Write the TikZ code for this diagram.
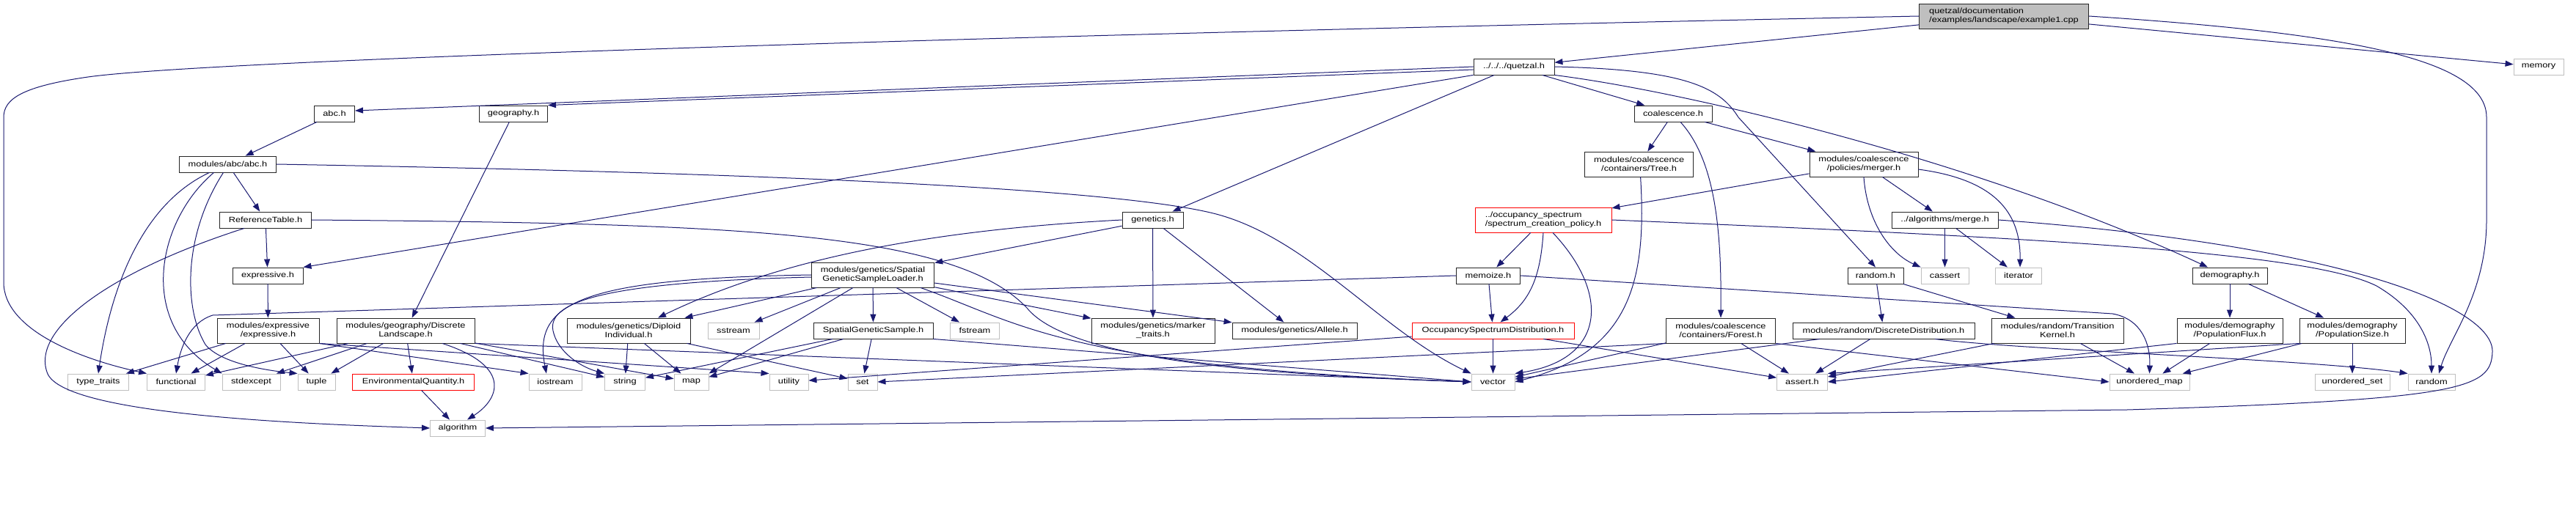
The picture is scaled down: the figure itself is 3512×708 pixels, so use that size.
\documentclass[tikz,border=0pt]{standalone}
\usepackage{fontspec}
\newfontfamily\doxfont[FakeStretch=1.22]{Liberation Sans}
\usetikzlibrary{arrows.meta}
\definecolor{edgeblue}{HTML}{191970}
\definecolor{sysgray}{HTML}{BFBFBF}
\definecolor{mainfill}{HTML}{BFBFBF}
\definecolor{missred}{HTML}{FF0000}
\tikzset{
  hdrbox/.style={
    rectangle, draw=black!85, fill=white, line width=0.9pt,
    minimum width=#1, minimum height=22,
    font=\doxfont\fontsize{10.5}{12}\selectfont, align=center,
    inner sep=2pt
  },
  hdrbox/.default=60,
  sysbox/.style={hdrbox=#1, draw=sysgray},
  redbox/.style={hdrbox=#1, draw=missred},
  mainbox/.style={hdrbox=#1, fill=mainfill},
  twoline/.style={minimum height=34},
  incl/.style={
    -{Triangle[length=11pt,width=8pt]}, draw=edgeblue, line width=1pt
  },
}

\begin{document}
\begin{tikzpicture}[x=1pt, y=-1pt]
  \useasboundingbox (0,0) rectangle (3512,708);

  % top rows
  \node[mainbox=231, twoline, align=left] (ex) at (2732,22)
    {quetzal/documentation\\/examples/landscape/example1.cpp};
  \node[hdrbox=110] (quetzal) at (2064,91) {../../../quetzal.h};
  \node[sysbox=68] (memory) at (3461,91) {memory};
  \node[hdrbox=55] (abc) at (456,155) {abc.h};
  \node[hdrbox=93] (geography) at (700,155) {geography.h};
  \node[hdrbox=106] (coalescence) at (2281,155) {coalescence.h};
  \node[hdrbox=132] (abcmod) at (310.5,224) {modules/abc/abc.h};
  \node[hdrbox=148, twoline] (tree) at (2234.6,224)
    {modules/coalescence\\/containers/Tree.h};
  \node[hdrbox=148, twoline] (merger) at (2541,224)
    {modules/coalescence\\/policies/merger.h};
  \node[hdrbox=125] (reftable) at (362,300) {ReferenceTable.h};
  \node[hdrbox=83] (genetics) at (1571.5,300) {genetics.h};
  \node[redbox=186, twoline, align=left] (policy) at (2104,300)
    {../occupancy\_spectrum\\/spectrum\_creation\_policy.h};
  \node[hdrbox=145] (merge) at (2651.5,300) {../algorithms/merge.h};
  \node[hdrbox=96] (expressive) at (365,376) {expressive.h};
  \node[hdrbox=167.5, twoline] (loader) at (1190,375)
    {modules/genetics/Spatial\\GeneticSampleLoader.h};
  \node[hdrbox=87] (memoize) at (2029,376) {memoize.h};
  \node[hdrbox=76] (randomh) at (2557,376) {random.h};
  \node[sysbox=65] (cassert) at (2651.5,376) {cassert};
  \node[sysbox=63] (iterator) at (2752,376) {iterator};
  \node[hdrbox=102] (demography) at (3040,376) {demography.h};

  % module headers
  \node[hdrbox=139, twoline] (exprmod) at (365.5,451)
    {modules/expressive\\/expressive.h};
  \node[hdrbox=188, twoline] (landscape) at (553,451)
    {modules/geography/Discrete\\Landscape.h};
  \node[hdrbox=168, twoline] (diploid) at (857,451)
    {modules/genetics/Diploid\\Individual.h};
  \node[sysbox=70] (sstream) at (1000,451) {sstream};
  \node[hdrbox=163] (sample) at (1190.5,451) {SpatialGeneticSample.h};
  \node[sysbox=67] (fstream) at (1329,451) {fstream};
  \node[hdrbox=168, twoline] (marker) at (1572,451)
    {modules/genetics/marker\\\_traits.h};
  \node[hdrbox=170] (allele) at (1765,451) {modules/genetics/Allele.h};
  \node[redbox=221] (osd) at (2035.5,451) {OccupancySpectrumDistribution.h};
  \node[hdrbox=149, twoline] (forest) at (2346,451)
    {modules/coalescence\\/containers/Forest.h};
  \node[hdrbox=248] (discrete) at (2568,451)
    {modules/random/DiscreteDistribution.h};
  \node[hdrbox=180, twoline] (kernel) at (2805,451)
    {modules/random/Transition\\Kernel.h};
  \node[hdrbox=144, twoline] (flux) at (3040,451)
    {modules/demography\\/PopulationFlux.h};
  \node[hdrbox=144, twoline] (popsize) at (3207,451)
    {modules/demography\\/PopulationSize.h};

  % system headers
  \node[sysbox=83] (typetraits) at (134,521) {type\_traits};
  \node[sysbox=79] (functional) at (240,521) {functional};
  \node[sysbox=79] (stdexcept) at (342.5,521) {stdexcept};
  \node[sysbox=51] (tuple) at (431.5,521) {tuple};
  \node[redbox=166] (envq) at (563.6,521) {EnvironmentalQuantity.h};
  \node[sysbox=72] (iostream) at (757,521) {iostream};
  \node[sysbox=55] (string) at (852,521) {string};
  \node[sysbox=47] (map) at (942.5,521) {map};
  \node[sysbox=53] (utility) at (1075.5,521) {utility};
  \node[sysbox=40] (set) at (1176,521) {set};
  \node[sysbox=59] (vector) at (2035.5,521) {vector};
  \node[sysbox=69] (asserth) at (2457,521) {assert.h};
  \node[sysbox=109] (umap) at (2930.5,521) {unordered\_map};
  \node[sysbox=102] (uset) at (3207,521) {unordered\_set};
  \node[sysbox=64] (random) at (3315,521) {random};
  \node[sysbox=75] (algorithm) at (624,584) {algorithm};

  % example1.cpp
  \draw[incl] (ex) -- (quetzal);
  \draw[incl] (ex.west) .. controls (1500,45) and (300,80) .. (120,105)
    .. controls (30,118) and (5,135) .. (5,160) -- (5,385)
    .. controls (5,450) and (110,490) .. (functional.north west);
  \draw[incl] (ex) -- (memory);
  \draw[incl] (ex.east) .. controls (3200,45) and (3390,80) .. (3390,160)
    -- (3390,300) .. controls (3390,400) and (3340,460) .. ([xshift=10]random.north);

  % quetzal.h
  \draw[incl] (quetzal.west) -- ([yshift=4]abc.east);
  \draw[incl] ([yshift=-4]quetzal.west) -- (geography.north east);
  \draw[incl] (quetzal.south west) -- (expressive.north east);
  \draw[incl] (quetzal) -- (genetics);
  \draw[incl] (quetzal) -- (coalescence);
  \draw[incl] (quetzal.east) .. controls (2300,95) and (2345,120) .. (2370,160)
    -- (randomh.north);
  \draw[incl] (quetzal.south east) .. controls (2300,125) and (2700,220)
    .. ([xshift=-30]demography.north);

  \draw[incl] (abc) -- (abcmod);
  \draw[incl] (geography) -- (landscape);

  % modules/abc/abc.h
  \draw[incl] (abcmod) -- (reftable);
  \draw[incl] ([xshift=-25]abcmod.south) .. controls (190,280) and (150,400)
    .. (typetraits.north);
  \draw[incl] ([xshift=-19]abcmod.south) .. controls (215,300) and (185,440)
    .. (stdexcept.north west);
  \draw[incl] ([xshift=-6]abcmod.south) .. controls (250,320) and (250,420)
    .. (280,470) .. controls (300,495) and (360,505) .. (tuple.north west);
  \draw[incl] (abcmod.east) .. controls (1000,235) and (1500,255) .. (1650,290)
    .. controls (1780,320) and (1880,450) .. (vector.north west);

  % ReferenceTable.h
  \draw[incl] (reftable) -- (expressive);
  \draw[incl] ([xshift=-29]reftable.south) .. controls (150,370) and (40,450)
    .. (65,510) .. controls (90,565) and (400,578) .. (algorithm.west);
  \draw[incl] (reftable.east) .. controls (1000,305) and (1300,315) .. (1400,420)
    .. controls (1460,495) and (1750,512) .. (vector.west);

  % expressive
  \draw[incl] (expressive) -- (exprmod);
  \draw[incl] (exprmod) -- (typetraits);
  \draw[incl] (exprmod) -- (functional);
  \draw[incl] (exprmod) -- (tuple);
  \draw[incl] (exprmod.south east) -- (iostream.north west);
  \draw[incl] (exprmod.south east) -- (utility.north west);

  % DiscreteLandscape.h
  \draw[incl] (landscape) -- (envq);
  \draw[incl] ([xshift=50]landscape.south) .. controls (700,500) and (680,545)
    .. ([xshift=13]algorithm.north);
  \draw[incl] (landscape) -- (functional);
  \draw[incl] (landscape) -- (stdexcept);
  \draw[incl] (landscape) -- (tuple);
  \draw[incl] (landscape) -- (string);
  \draw[incl] (landscape) -- (map);
  \draw[incl] (landscape.south east) -- (vector.west);
  \draw[incl] (envq) -- (algorithm);

  % genetics
  \draw[incl] (genetics) -- (loader);
  \draw[incl] (genetics.west) .. controls (1300,312) and (1080,345)
    .. ([xshift=40]diploid.north);
  \draw[incl] (genetics) -- (marker);
  \draw[incl] (genetics) -- (allele);
  \draw[incl] (loader) -- (sample);
  \draw[incl] (loader) -- (fstream);
  \draw[incl] (loader) -- (sstream);
  \draw[incl] (loader) -- (diploid);
  \draw[incl] (loader) -- (marker);
  \draw[incl] (loader) -- (allele);
  \draw[incl] (loader.west) .. controls (800,380) and (725,410)
    .. ([xshift=-12]iostream.north);
  \draw[incl] ([yshift=-3]loader.west) .. controls (830,385) and (740,410)
    .. (755,455) .. controls (762,480) and (790,500) .. (string.north west);
  \draw[incl] ([xshift=-27]loader.south) -- (map.north east);
  \draw[incl] ([xshift=65]loader.south) .. controls (1390,440) and (1450,500)
    .. (vector.west);
  \draw[incl] (diploid) -- (string);
  \draw[incl] (diploid) -- (map);
  \draw[incl] (diploid) -- (set);
  \draw[incl] (sample) -- (set);
  \draw[incl] (sample) -- (string);
  \draw[incl] (sample) -- (map);
  \draw[incl] (sample.south east) -- (vector.west);

  % occupancy spectrum
  \draw[incl] (policy) -- (memoize);
  \draw[incl] (policy.south) .. controls (2100,380) and (2085,410)
    .. ([xshift=10]osd.north);
  \draw[incl] ([xshift=13]policy.south) .. controls (2195,400) and (2190,490)
    .. (vector.north east);
  \draw[incl] (policy.east) .. controls (2800,325) and (3150,345) .. (3240,390)
    .. controls (3300,425) and (3315,470) .. (random.north);
  \draw[incl] (memoize) -- (osd);
  \draw[incl] (memoize.west) -- (290,430) .. controls (258,440) and (246,475)
    .. (functional.north);
  \draw[incl] (memoize.east) -- (2880,428) .. controls (2920,435) and (2932,470)
    .. (umap.north);
  \draw[incl] (osd) -- (vector);
  \draw[incl] (osd) -- (utility);
  \draw[incl] (osd) -- (asserth);

  % coalescence
  \draw[incl] (coalescence) -- (tree);
  \draw[incl] (coalescence) -- (merger);
  \draw[incl] ([xshift=10]coalescence.south) .. controls (2340,220) and (2347,320)
    .. (forest.north);
  \draw[incl] ([xshift=2]tree.south) .. controls (2245,380) and (2225,480)
    .. (vector.east);
  \draw[incl] (merger) -- (policy);
  \draw[incl] (merger) -- (merge);
  \draw[incl] (merger.south) .. controls (2545,300) and (2575,345)
    .. (cassert.north west);
  \draw[incl] ([yshift=-7]merger.east) .. controls (2720,245) and (2755,290)
    .. ([xshift=2]iterator.north);
  \draw[incl] (merge) -- (cassert);
  \draw[incl] (merge) -- (iterator);
  \draw[incl] (merge.east) .. controls (3200,335) and (3400,420) .. (3398,480)
    .. controls (3396,530) and (3360,545) .. (2900,559) -- (algorithm.east);
  \draw[incl] (forest.south west) -- (set.east);
  \draw[incl] (forest) -- (vector);
  \draw[incl] (forest) -- (asserth);
  \draw[incl] (forest.south east) -- (umap.west);

  % random
  \draw[incl] (randomh) -- (discrete);
  \draw[incl] (randomh) -- (kernel);
  \draw[incl] (discrete) -- (asserth);
  \draw[incl] (discrete) -- (vector);
  \draw[incl] ([xshift=70]discrete.south) .. controls (2760,478) and (3150,490)
    .. (random.north west);
  \draw[incl] (kernel) -- (asserth);
  \draw[incl] (kernel) -- (umap);

  % demography
  \draw[incl] (demography) -- (flux);
  \draw[incl] (demography) -- (popsize);
  \draw[incl] (flux) -- (umap);
  \draw[incl] (flux.south west) -- (asserth.east);
  \draw[incl] (popsize) -- (uset);
  \draw[incl] (popsize) -- (umap);
  \draw[incl] (popsize.south west) -- (asserth.north east);
\end{tikzpicture}
\end{document}
